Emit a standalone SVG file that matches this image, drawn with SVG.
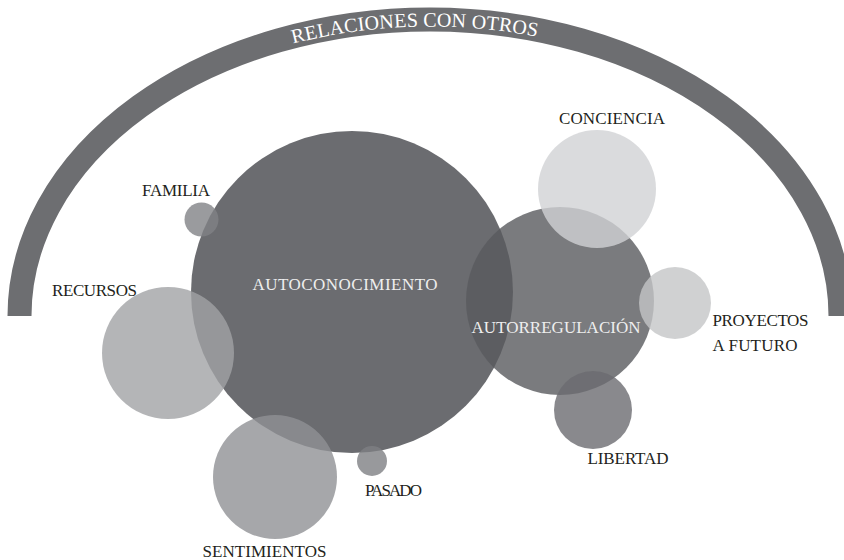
<svg xmlns="http://www.w3.org/2000/svg" width="844" height="560" viewBox="0 0 844 560">
<defs>
<style>
.lbl{font-family:"Liberation Serif","Times New Roman",serif;font-size:17px;fill:#231f20}
.wlbl{font-family:"Liberation Serif","Times New Roman",serif;font-size:17px;fill:#eeeeee}
.arctext{font-family:"Liberation Serif","Times New Roman",serif;font-size:20px;fill:#ffffff}
.c{fill-opacity:0.8}
</style>
<path id="textArc" d="M 26.5 316 A 403.5 289.5 0 0 1 833.5 316"/>
</defs>
<rect width="844" height="560" fill="#ffffff"/>
<g id="relaciones">
<path d="M 19.5 316 A 410.5 296.5 0 0 1 840.5 316" fill="none" stroke="#6d6e71" stroke-width="24"/>
<text class="arctext"><textPath href="#textArc" startOffset="48.6%" text-anchor="middle" textLength="246">RELACIONES CON OTROS</textPath></text>
</g>
<g id="autoconocimiento">
<circle cx="352" cy="292" r="161" fill="#6b6c70"/>
</g>
<g id="autorregulacion">
<circle class="c" cx="560" cy="301" r="94" fill="#595a5e"/>
</g>
<g id="conciencia">
<circle class="c" cx="597" cy="189" r="59" fill="#d1d2d4"/>
</g>
<g id="proyectos">
<circle class="c" cx="675" cy="303" r="36" fill="#c4c5c7"/>
</g>
<g id="libertad">
<circle class="c" cx="593" cy="410" r="39" fill="#6b6c70"/>
</g>
<g id="familia">
<circle class="c" cx="201.5" cy="219.5" r="17" fill="#818286"/>
</g>
<g id="recursos">
<circle class="c" cx="168" cy="353" r="66" fill="#a1a2a5"/>
</g>
<g id="sentimientos">
<circle class="c" cx="275" cy="477" r="62" fill="#909195"/>
</g>
<g id="pasado">
<circle class="c" cx="372" cy="461" r="15" fill="#7e7f83"/>
</g>
<g id="labels">
<text class="lbl" x="176" y="196" text-anchor="middle" textLength="68">FAMILIA</text>
<text class="lbl" x="94.5" y="296" text-anchor="middle" textLength="85">RECURSOS</text>
<text class="lbl" x="612" y="124" text-anchor="middle" textLength="106">CONCIENCIA</text>
<text class="wlbl" x="345" y="290" text-anchor="middle" textLength="185">AUTOCONOCIMIENTO</text>
<text class="wlbl" x="556" y="333" text-anchor="middle" textLength="169">AUTORREGULACIÓN</text>
<text class="lbl" x="712.5" y="326" textLength="96">PROYECTOS</text>
<text class="lbl" x="712.5" y="351" textLength="85">A FUTURO</text>
<text class="lbl" x="628" y="464" text-anchor="middle" textLength="81">LIBERTAD</text>
<text class="lbl" x="393.5" y="496" text-anchor="middle" textLength="57">PASADO</text>
<text class="lbl" x="264.5" y="556.5" text-anchor="middle" textLength="124">SENTIMIENTOS</text>
</g>
</svg>
